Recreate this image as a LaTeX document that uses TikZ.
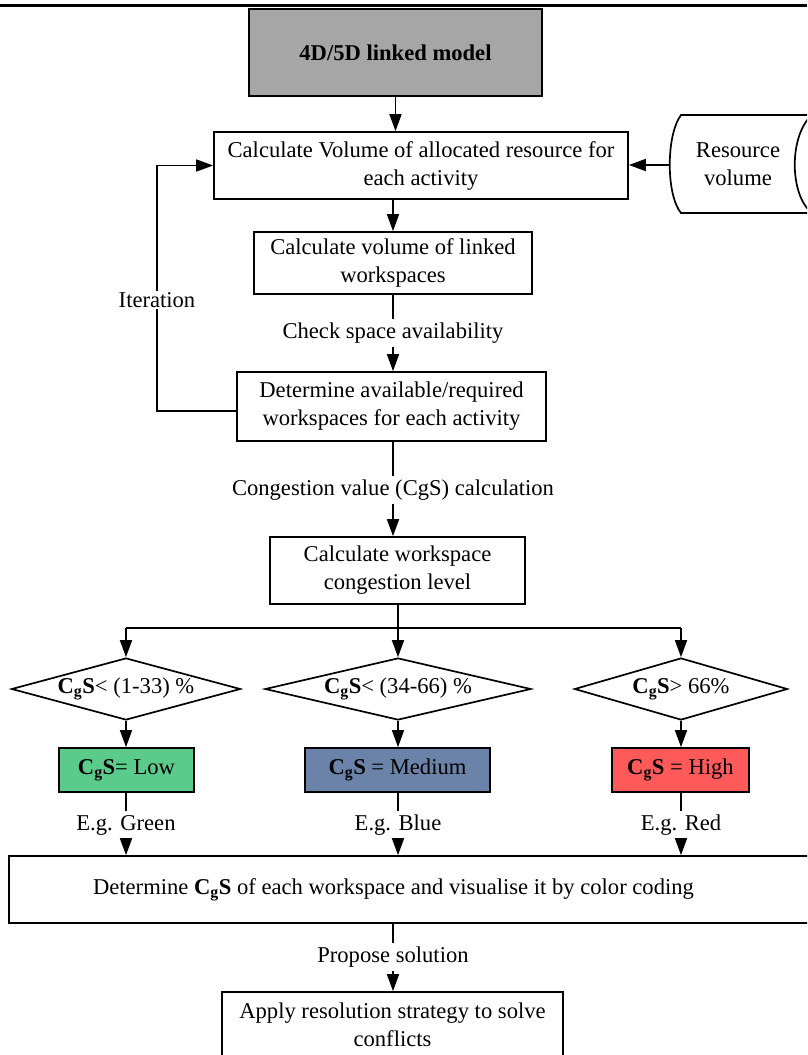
\documentclass[tikz,border=0pt]{standalone}
\usepackage{fontspec}
\setmainfont{Liberation Serif}
\usetikzlibrary{arrows.meta,shapes.geometric}
\definecolor{modelgray}{RGB}{166,166,166}
\definecolor{lowgreen}{RGB}{90,203,139}
\definecolor{medblue}{RGB}{107,131,168}
\definecolor{highred}{RGB}{255,90,90}
\newcommand{\cgs}{\textbf{C\textsubscript{g}S}}

\begin{document}
\begin{tikzpicture}[x=1pt,y=-1pt,line width=1.7pt,
    font=\fontsize{22.6pt}{28pt}\selectfont,
    box/.style={draw,align=center,inner sep=0pt},
    cond/.style={draw,diamond,aspect=4,inner sep=0pt,minimum height=62pt},
    lbl/.style={inner sep=3pt},
    arr/.style={-{Triangle[length=17pt,width=12pt]}}]
    \clip (0,0) rectangle (807,1055);

    \draw[line width=3pt] (0,5) -- (807,5); % rule above the chart

    \node[box,fill=modelgray,font=\fontsize{22.6pt}{28pt}\selectfont\bfseries,minimum width=293pt,minimum height=87pt] (model) at (395.5,52.5) {4D/5D linked model};
    \node[box,minimum width=414pt,minimum height=67pt] (calc) at (421,165.5) {Calculate Volume of allocated resource for\\each activity};
    \draw[arr] (model.south) -- (model.south |- calc.north);

    % resource volume (stored data)
    \draw (681,115) -- (812,115) .. controls (789,135) and (789,195) .. (812,213) -- (681,213) .. controls (666,195) and (666,135) .. (681,115) -- cycle;
    \node[align=center] (res) at (738,164) {Resource\\volume};
    \coordinate (resin) at (670,165);
    \draw[arr] (resin) -- (calc.east |- resin);

    \node[box,minimum width=278pt,minimum height=62pt] (link) at (393,263) {Calculate volume of linked\\workspaces};
    \draw[arr] (link.north |- calc.south) -- (link.north);

    \node[lbl] (chk) at (393,333) {Check space availability};
    \node[box,minimum width=309pt,minimum height=69pt] (det) at (391.5,406.5) {Determine available/required\\workspaces for each activity};
    \draw (link.south) -- (chk);
    \draw[arr] (chk) -- (det.north -| chk);

    % iteration loop
    \node[fill=white,inner sep=1pt] (iter) at (157,300) {Iteration};
    \draw ([yshift=-4.5pt]det.west) -| (iter.south);
    \draw[arr] (iter.north) |- (calc.west);

    \node[lbl] (cong) at (393,490) {Congestion value (CgS) calculation};
    \node[box,minimum width=255pt,minimum height=67pt] (lvl) at (397.5,570.5) {Calculate workspace\\congestion level};
    \draw (det.south -| cong) -- (cong);
    \draw[arr] (cong) -- (lvl.north -| cong);

    % three congestion classes
    \node[cond,minimum width=229pt] (d1) at (126,689) {\cgs< (1-33) \%};
    \node[cond,minimum width=266pt] (d2) at (398,689) {\cgs< (34-66) \%};
    \node[cond,minimum width=213pt] (d3) at (681,689) {\cgs> 66\%};
    \coordinate (split) at (398,628);
    \draw (lvl.south -| split) -- (split);
    \draw (d1.north |- split) -- (d3.north |- split);
    \foreach \d in {d1,d2,d3}
        \draw[arr] (\d.north |- split) -- (\d.north);

    \node[box,fill=lowgreen,minimum width=135pt,minimum height=44pt] (low) at (126.5,770) {\cgs= Low};
    \node[box,fill=medblue,minimum width=185pt,minimum height=44pt] (med) at (397.5,770) {\cgs{} = Medium};
    \node[box,fill=highred,minimum width=137pt,minimum height=44pt] (high) at (680.5,770) {\cgs{} = High};
    \draw[arr] (d1.south) -- (low.north -| d1.south);
    \draw[arr] (d2.south) -- (med.north -| d2.south);
    \draw[arr] (d3.south) -- (high.north -| d3.south);

    \node[lbl] (eg1) at (126,825) {E.g. Green};
    \node[lbl] (eg2) at (398,825) {E.g. Blue};
    \node[lbl] (eg3) at (681,825) {E.g. Red};
    \node[box,minimum width=803pt,minimum height=67pt] (vis) at (410.5,889.5) {\hspace*{-34pt}Determine \cgs{} of each workspace and visualise it by color coding};
    \draw (low.south -| eg1) -- (eg1);
    \draw (med.south -| eg2) -- (eg2);
    \draw (high.south -| eg3) -- (eg3);
    \foreach \e in {eg1,eg2,eg3}
        \draw[arr] (\e) -- (vis.north -| \e);

    \node[lbl] (prop) at (393,957) {Propose solution};
    \node[box,minimum width=341pt,minimum height=66pt] (apply) at (392.5,1025) {Apply resolution strategy to solve\\conflicts};
    \draw (vis.south -| prop) -- (prop);
    \draw[arr] (prop) -- (apply.north -| prop);
\end{tikzpicture}
\end{document}
